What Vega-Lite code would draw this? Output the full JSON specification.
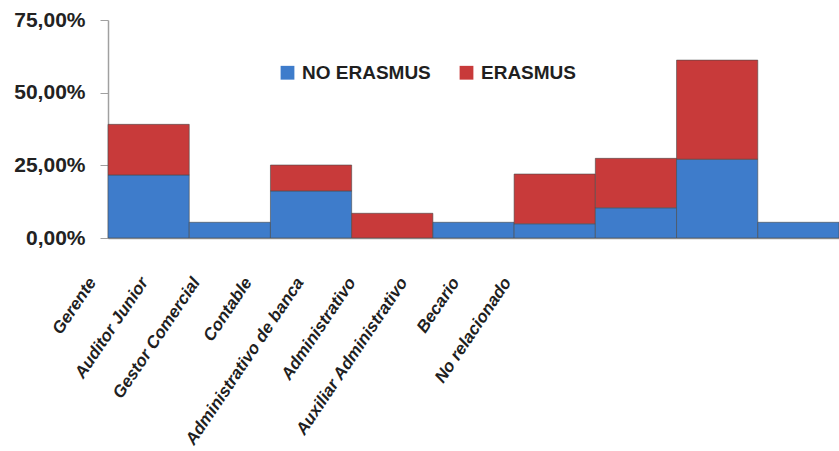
{
  "$schema": "https://vega.github.io/schema/vega-lite/v6.json",
  "autosize": "none",
  "padding": {"left": 108, "top": 20, "right": 0, "bottom": 213},
  "width": 731,
  "height": 218,
  "background": "white",
  "data": {
    "values": [
      {"puesto": "Gerente", "serie": "NO ERASMUS", "valor": 0.217},
      {"puesto": "Gerente", "serie": "ERASMUS", "valor": 0.174},
      {"puesto": "Auditor Junior", "serie": "NO ERASMUS", "valor": 0.054},
      {"puesto": "Gestor Comercial", "serie": "NO ERASMUS", "valor": 0.162},
      {"puesto": "Gestor Comercial", "serie": "ERASMUS", "valor": 0.089},
      {"puesto": "Contable", "serie": "ERASMUS", "valor": 0.085},
      {"puesto": "Administrativo de banca", "serie": "NO ERASMUS", "valor": 0.054},
      {"puesto": "Administrativo", "serie": "NO ERASMUS", "valor": 0.049},
      {"puesto": "Administrativo", "serie": "ERASMUS", "valor": 0.171},
      {"puesto": "Auxiliar Administrativo", "serie": "NO ERASMUS", "valor": 0.104},
      {"puesto": "Auxiliar Administrativo", "serie": "ERASMUS", "valor": 0.170},
      {"puesto": "Becario", "serie": "NO ERASMUS", "valor": 0.271},
      {"puesto": "Becario", "serie": "ERASMUS", "valor": 0.341},
      {"puesto": "No relacionado", "serie": "NO ERASMUS", "valor": 0.054}
    ]
  },
  "mark": {"type": "bar", "strokeWidth": 1, "stroke": "#4a4a4a", "strokeOpacity": 0.6},
  "encoding": {
    "x": {
      "field": "puesto",
      "type": "nominal",
      "sort": ["Gerente", "Auditor Junior", "Gestor Comercial", "Contable", "Administrativo de banca", "Administrativo", "Auxiliar Administrativo", "Becario", "No relacionado"],
      "scale": {"paddingInner": 0, "paddingOuter": 0},
      "axis": {
        "title": null,
        "ticks": false,
        "domainColor": "#a0a0a0",
        "domainWidth": 1.5,
        "labelAngle": -56,
        "labelAlign": "right",
        "labelBaseline": "middle",
        "labelFont": "Liberation Sans",
        "labelFontSize": 17,
        "labelFontStyle": "italic",
        "labelFontWeight": "bold",
        "labelColor": "#1f1f1f",
        "labelPadding": 41,
        "labelLimit": 0,
        "labelOffset": {"expr": "-56 - datum.index * 234.6"}
      }
    },
    "y": {
      "field": "valor",
      "type": "quantitative",
      "stack": "zero",
      "scale": {"domain": [0, 0.75], "nice": false},
      "axis": {
        "title": null,
        "values": [0, 0.25, 0.5, 0.75],
        "labelExpr": "replace(format(datum.value, '.2%'), '.', ',')",
        "grid": false,
        "domainColor": "#a0a0a0",
        "domainWidth": 1.5,
        "tickColor": "#a0a0a0",
        "tickSize": 8,
        "labelPadding": 15,
        "labelFont": "Liberation Sans",
        "labelFontSize": 21,
        "labelFontWeight": "bold",
        "labelColor": "#222222"
      }
    },
    "color": {
      "field": "serie",
      "type": "nominal",
      "sort": ["NO ERASMUS", "ERASMUS"],
      "scale": {"domain": ["NO ERASMUS", "ERASMUS"], "range": ["#3e7ccb", "#c83a3a"]},
      "legend": {
        "title": null,
        "orient": "none",
        "direction": "horizontal",
        "legendX": 170,
        "legendY": 43,
        "symbolType": "square",
        "symbolSize": 190,
        "symbolStrokeWidth": 0,
        "symbolOpacity": 1,
        "labelFont": "Liberation Sans",
        "labelFontSize": 19,
        "labelFontWeight": "bold",
        "labelColor": "#1f1f1f",
        "columnPadding": 26,
        "labelOffset": 5
      }
    },
    "order": {"field": "serie", "sort": "descending"}
  },
  "config": {"view": {"stroke": null}}
}
